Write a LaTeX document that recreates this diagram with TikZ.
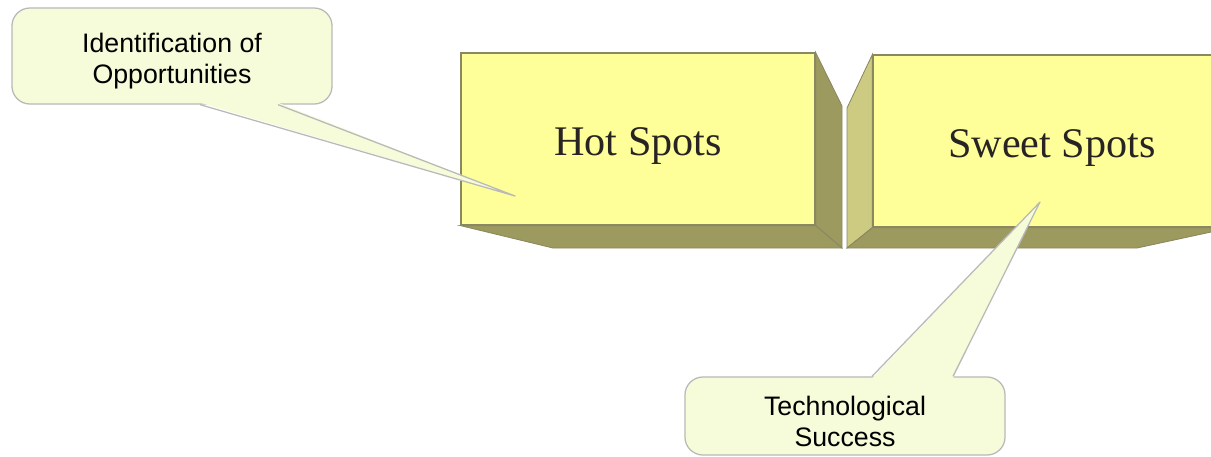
\documentclass[tikz,border=0pt]{standalone}
\usepackage{fontspec}
\setmainfont{Liberation Serif}
\newfontfamily\calloutfont{Liberation Sans}
\usetikzlibrary{calc}
\definecolor{frontyellow}{HTML}{FFFF99}
\definecolor{sidedark}{HTML}{9C9A5E}
\definecolor{sidelight}{HTML}{CDCB82}
\definecolor{edgeolive}{HTML}{8A8860}
\definecolor{calloutfill}{HTML}{F6FBD9}
\definecolor{calloutline}{HTML}{B9B9B9}
\newcommand{\toppad}{\rule{0pt}{21pt}}
\tikzstyle{front-face}=[draw=edgeolive,line width=0.8pt,fill=frontyellow,minimum height=4.3cm,text height=0.8cm,text depth=0pt,inner sep=0pt,font=\fontsize{30pt}{36pt}\selectfont,text=black!95!olive]
\tikzstyle{dark-face}=[draw=edgeolive,line width=0.6pt,fill=sidedark]
\tikzstyle{light-face}=[draw=edgeolive,line width=0.6pt,fill=sidelight]
\tikzstyle{callout-node}=[draw=calloutline,line width=0.9pt,fill=calloutfill,rounded corners=0.45cm,minimum width=8cm,align=center,inner sep=0pt,font=\calloutfont\fontsize{19pt}{22pt}\selectfont]
\tikzstyle{tail-fill}=[fill=calloutfill]
\tikzstyle{tail-line}=[draw=calloutline,line width=0.9pt,line join=round]

\begin{document}
\begin{tikzpicture}[x=0.025cm,y=-0.025cm]
	\useasboundingbox (0,0) rectangle (1211,456);
	\clip (0,0) rectangle (1211,456);

	\begin{scope}
	\node (hs)[front-face,minimum width=8.85cm] at (638,139) {Hot Spots};
	\node (ss)[front-face,minimum width=8.95cm] at (1052,141) {Sweet Spots};
	\end{scope}

	\begin{scope}
	\path[dark-face] (hs.north east) -- (842,106) -- (842,248) -- (hs.south east) -- cycle;
	\path[dark-face] (hs.south west) -- (hs.south east) -- (842,248) -- (553,248) -- cycle;
	\path[light-face] (ss.north west) -- (847,108) -- (847,248) -- (ss.south west) -- cycle;
	\path[dark-face] (ss.south west) -- (ss.south east) -- (1137,248) -- (847,248) -- cycle;
	\end{scope}

	\begin{scope}
	\node (c1)[callout-node,minimum height=2.4cm] at (172,56) {\toppad Identification of\\Opportunities};
	\node (c2)[callout-node,minimum height=1.95cm] at (845,416) {\toppad Technological\\Success};
	\coordinate (t1) at (515,196);
	\coordinate (t2) at (1040,202);
	\end{scope}

	\begin{scope}
	\path[tail-fill] ($(c1.south)+(28,-2)$) -- (t1) -- ($(c1.south)+(106,-2)$) -- cycle;
	\path[tail-line] ($(c1.south)+(28,0)$) -- (t1) -- ($(c1.south)+(106,0)$);
	\path[tail-fill] ($(c2.north)+(27,2)$) -- (t2) -- ($(c2.north)+(108,2)$) -- cycle;
	\path[tail-line] ($(c2.north)+(27,0)$) -- (t2) -- ($(c2.north)+(108,0)$);
	\end{scope}
\end{tikzpicture}
\end{document}
